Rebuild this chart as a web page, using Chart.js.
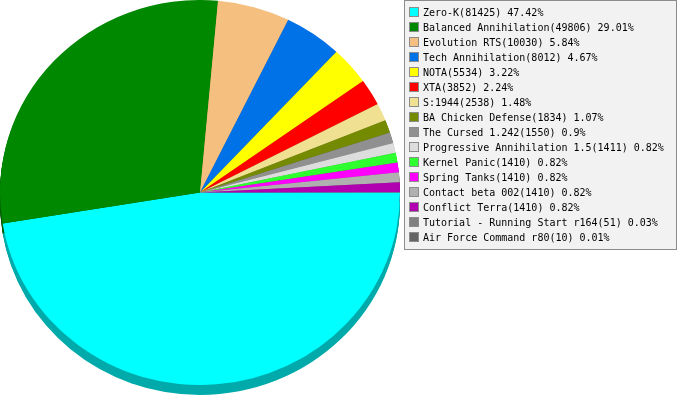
<!DOCTYPE html>
<html>
<head>
<meta charset="utf-8">
<script src="https://cdn.jsdelivr.net/npm/chart.js@4/dist/chart.umd.min.js"></script>
<style>
  body { margin: 0; background: #fff; }
  #wrap { width: 677px; height: 400px; position: relative; }
</style>
</head>
<body>
<div id="wrap"><canvas id="chart"></canvas></div>
<script>
const labels = [
  'Zero-K', 'Balanced Annihilation', 'Evolution RTS', 'Tech Annihilation',
  'NOTA', 'XTA', 'S:1944', 'BA Chicken Defense', 'The Cursed 1.242',
  'Progressive Annihilation 1.5', 'Kernel Panic', 'Spring Tanks',
  'Contact beta 002', 'Conflict Terra', 'Tutorial - Running Start r164',
  'Air Force Command r80'
];
const values = [81425, 49806, 10030, 8012, 5534, 3852, 2538, 1834, 1550, 1411, 1410, 1410, 1410, 1410, 51, 10];
const percents = ['47.42', '29.01', '5.84', '4.67', '3.22', '2.24', '1.48', '1.07', '0.9', '0.82', '0.82', '0.82', '0.82', '0.82', '0.03', '0.01'];
const colors = [
  '#00ffff', '#008800', '#f5bf80', '#0072e8', '#ffff00', '#ff0000', '#efe092', '#748a00',
  '#909090', '#dddddd', '#2eff2e', '#ff00ff', '#b0b0b0', '#b000b0', '#808080', '#646464'
];

const squash = 385 / 400;   // pie is a bit flatter than round
const depth = 10;

function darker(hex) {
  const n = parseInt(hex.slice(1), 16);
  const r = Math.round(((n >> 16) & 255) * 2 / 3);
  const g = Math.round(((n >> 8) & 255) * 2 / 3);
  const b = Math.round((n & 255) * 2 / 3);
  return `rgb(${r},${g},${b})`;
}

const pie3d = {
  id: 'pie3d',
  beforeDatasetsDraw(chart) {
    const ctx = chart.ctx;
    ctx.save();
    ctx.scale(1, squash);
    const meta = chart.getDatasetMeta(0);
    meta.data.forEach((arc, i) => {
      const { x, y, startAngle, endAngle, outerRadius } = arc.getProps(['x', 'y', 'startAngle', 'endAngle', 'outerRadius'], true);
      ctx.fillStyle = darker(colors[i]);
      for (let d = 1; d <= depth; d++) {
        const yy = y + d / squash;
        ctx.beginPath();
        ctx.moveTo(x, yy);
        ctx.arc(x, yy, outerRadius, startAngle, endAngle);
        ctx.closePath();
        ctx.fill();
      }
    });
  },
  afterDatasetsDraw(chart) {
    chart.ctx.restore();
  }
};

const boxLegend = {
  id: 'boxLegend',
  afterDraw(chart) {
    const ctx = chart.ctx;
    ctx.save();
    ctx.fillStyle = '#f2f2f2';
    ctx.fillRect(404, 0, 273, 250);
    ctx.strokeStyle = '#8c8c8c';
    ctx.lineWidth = 1;
    ctx.strokeRect(404.5, 0.5, 272, 249);
    ctx.font = '10px "DejaVu Sans Mono", monospace';
    ctx.textBaseline = 'alphabetic';
    labels.forEach((name, i) => {
      const top = 7 + i * 15;
      ctx.fillStyle = colors[i];
      ctx.fillRect(410, top + 1, 8, 8);
      ctx.strokeStyle = '#8c8c8c';
      ctx.strokeRect(409.5, top + 0.5, 9, 9);
      ctx.fillStyle = '#000';
      ctx.fillText(`${name}(${values[i]}) ${percents[i]}%`, 423, top + 9);
    });
    ctx.restore();
  }
};

new Chart(document.getElementById('chart'), {
  type: 'pie',
  data: {
    labels: labels,
    datasets: [{
      data: values,
      backgroundColor: colors,
      borderWidth: 0
    }]
  },
  options: {
    responsive: true,
    maintainAspectRatio: false,
    animation: false,
    rotation: 90,
    layout: {
      padding: { left: 0, right: 277, top: 0, bottom: 0 }
    },
    plugins: {
      legend: { display: false },
      tooltip: { enabled: false }
    }
  },
  plugins: [pie3d, boxLegend]
});
</script>
</body>
</html>
